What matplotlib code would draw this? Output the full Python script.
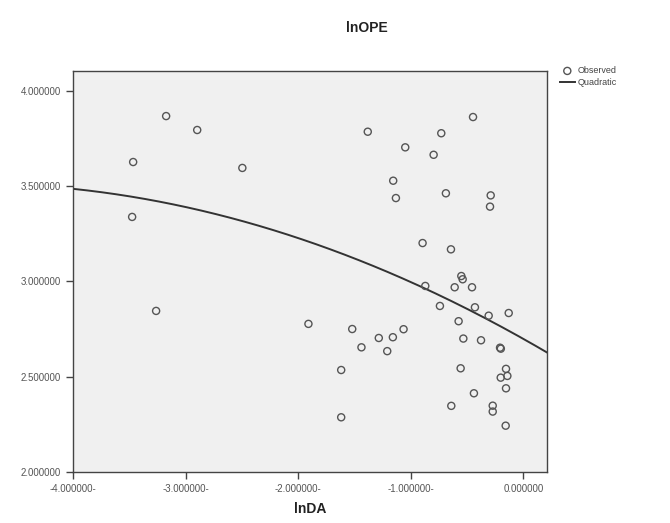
import numpy as np
import matplotlib
matplotlib.use("Agg")
import matplotlib.pyplot as plt

plt.rcParams['font.family'] = ['Liberation Sans', 'DejaVu Sans']

# observed points
lnDA = [-3.173, -2.897, -3.466, -2.496, -3.475, -3.262, -1.909,
        -1.520, -1.438, -1.284, -1.159, -1.064, -1.209, -1.618, -1.618,
        -1.382, -0.447, -0.729, -1.049, -0.797, -1.156, -1.132, -0.688,
        -0.290, -0.296, -0.895, -0.643,
        -0.551, -0.539, -0.610, -0.456, -0.871, -0.741, -0.430, -0.308,
        -0.130, -0.575, -0.533, -0.376, -0.207, -0.200, -0.557, -0.154,
        -0.201, -0.142, -0.154, -0.439, -0.640, -0.272, -0.272, -0.157]
lnOPE = [3.867, 3.794, 3.626, 3.595, 3.338, 2.845, 2.777,
         2.750, 2.654, 2.703, 2.707, 2.749, 2.634, 2.535, 2.287,
         3.785, 3.862, 3.777, 3.703, 3.664, 3.528, 3.437, 3.462,
         3.451, 3.392, 3.201, 3.168,
         3.028, 3.011, 2.969, 2.969, 2.976, 2.871, 2.864, 2.820,
         2.834, 2.791, 2.700, 2.691, 2.652, 2.647, 2.544, 2.541,
         2.495, 2.504, 2.439, 2.413, 2.347, 2.348, 2.317, 2.243]

x_ticks = [-4, -3, -2, -1, 0]
x_labels = ["-4.000000-", "-3.000000-", "-2.000000-", "-1.000000-", "0.000000"]
y_ticks = [2.0, 2.5, 3.0, 3.5, 4.0]
y_labels = ["2.000000", "2.500000", "3.000000", "3.500000", "4.000000"]

x = np.array(lnDA)
y = np.array(lnOPE)

# quadratic fit like SPSS curve estimation
coef = np.polyfit(x, y, 2)
xs = np.linspace(-4.0, 0.21, 200)
ys = np.polyval(coef, xs)

fig = plt.figure(figsize=(6.7, 5.23), dpi=100)
ax = fig.add_axes([0.109, 0.0975, 0.7074, 0.7673])
ax.set_facecolor('#f0f0f0')

ax.scatter(x, y, s=26, facecolors='none', edgecolors='#555555', linewidths=1.0,
           label='Observed', zorder=3)
ax.plot(xs, ys, color='#333333', lw=1.4, label='Quadratic', zorder=2)

ax.set_xlim(-4.0, 0.21)
ax.set_ylim(2.0, 4.105)
ax.set_xticks(x_ticks)
ax.set_xticklabels(x_labels)
ax.set_yticks(y_ticks)
ax.set_yticklabels(y_labels)
ax.tick_params(labelsize=7, labelcolor='#555555', color='#444444',
               length=5, width=1, direction='out')

for s in ax.spines.values():
    s.set_color('#444444')
    s.set_linewidth(1.0)

ax.set_xlabel('lnDA', fontsize=10, fontweight='bold', labelpad=6, color='#222222')
fig.text(0.548, 0.946, 'lnOPE', fontsize=10, fontweight='bold', ha='center',
         va='center', color='#222222')

leg = ax.legend(loc='upper left', bbox_to_anchor=(1.02, 1.02), frameon=False,
                fontsize=6.5, handlelength=1.6, handletextpad=0.3,
                borderaxespad=0, labelspacing=0.3)
for t in leg.get_texts():
    t.set_color('#444444')

fig.savefig('out.png', dpi=100)
